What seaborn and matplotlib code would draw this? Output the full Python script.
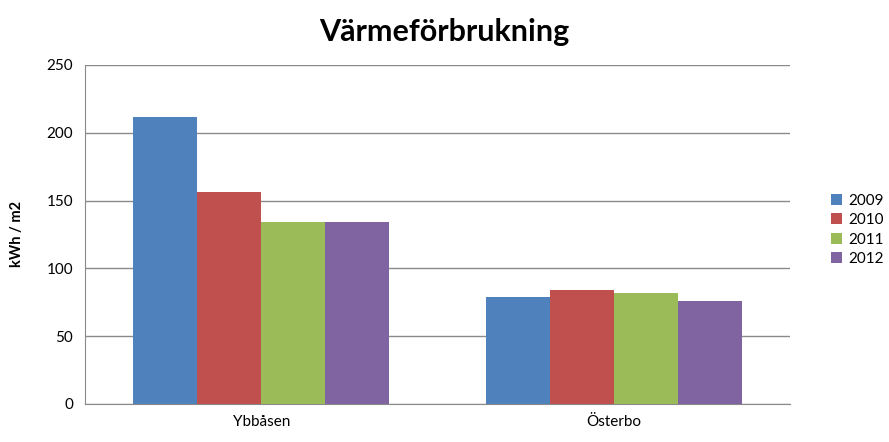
import pandas as pd
import matplotlib.pyplot as plt
import seaborn as sns
from matplotlib.ticker import FixedLocator

# Données
categories = ["Ybbåsen", "Österbo"]
years = ["2009", "2010", "2011", "2012"]
ybbasen = [212, 156, 134, 134]
osterbo = [79, 84, 82, 76]
colors = ["#4F81BD", "#C0504D", "#9BBB59", "#8064A2"]

rows = []
for i, y in enumerate(years):
    rows.append({"plats": categories[0], "år": y, "värde": ybbasen[i]})
    rows.append({"plats": categories[1], "år": y, "värde": osterbo[i]})
df = pd.DataFrame(rows)

sns.set_style("white")
plt.rcParams["font.family"] = ["Lato", "DejaVu Sans"]
plt.rcParams["text.color"] = "black"
plt.rcParams["axes.labelcolor"] = "black"
plt.rcParams["xtick.labelcolor"] = "black"
plt.rcParams["ytick.labelcolor"] = "black"

fig = plt.figure(figsize=(8.89, 4.42), dpi=100)
ax = fig.add_axes([0.0956, 0.086, 0.793, 0.767])

sns.barplot(data=df, x="plats", y="värde", hue="år", order=categories,
            hue_order=years, palette=colors, width=0.727, saturation=1,
            ax=ax, linewidth=0, zorder=3)

ax.set_ylim(0, 250)
ax.set_xlim(-0.5, 1.5)
ax.set_yticks(range(0, 251, 50))
ax.yaxis.grid(True, color="#8a8a8a", linewidth=1, zorder=0)
ax.set_axisbelow(True)

for side in ["top", "right"]:
    ax.spines[side].set_visible(False)
ax.spines["left"].set_color("#8a8a8a")
ax.spines["bottom"].set_color("#8a8a8a")

ax.tick_params(axis="y", length=5, color="#8a8a8a", labelsize=11, direction="out")
ax.tick_params(axis="x", which="major", length=0, labelsize=11, pad=8)
ax.xaxis.set_minor_locator(FixedLocator([-0.5, 0.5, 1.5]))
ax.tick_params(axis="x", which="minor", length=5, color="#8a8a8a", direction="out")

ax.set_xlabel("")
ax.set_ylabel("kWh / m2", fontsize=10.5, fontweight="bold", labelpad=16)
fig.suptitle("Värmeförbrukning", fontsize=22, fontweight="bold", y=0.96)

handles, labels = ax.get_legend_handles_labels()
ax.get_legend().remove()
fig.legend(handles, labels, loc="center left", bbox_to_anchor=(0.935, 0.48),
           frameon=False, fontsize=11, handlelength=0.7, handleheight=0.7,
           handletextpad=0.4, labelspacing=0.35, borderpad=0, borderaxespad=0)

fig.savefig("out.png", dpi=100)
